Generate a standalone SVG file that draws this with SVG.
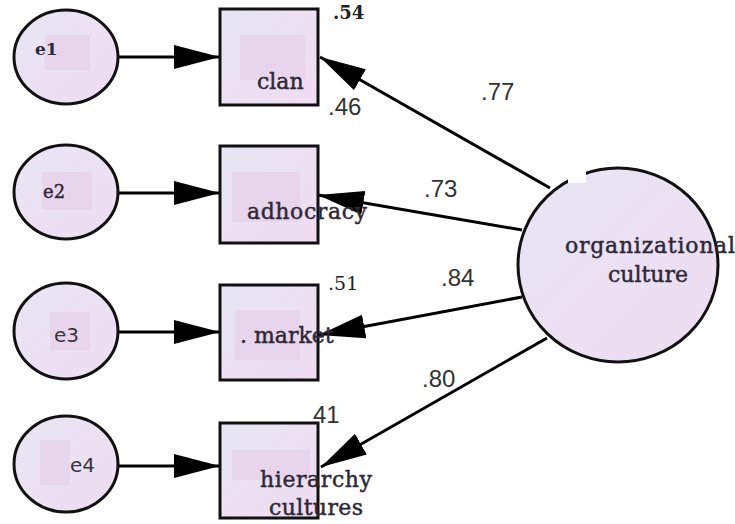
<svg xmlns="http://www.w3.org/2000/svg" width="735" height="524" viewBox="0 0 735 524">
  <defs>
    <linearGradient id="fillLav" x1="0" y1="0" x2="1" y2="1">
      <stop offset="0" stop-color="#e6e6f3"/>
      <stop offset="1" stop-color="#f0dcf2"/>
    </linearGradient>
    <marker id="ah" markerUnits="userSpaceOnUse" markerWidth="46" markerHeight="26" refX="46" refY="12" orient="auto">
      <path d="M0,0 L46,12 L0,24 z" fill="#000"/>
    </marker>
    <style>
      .node { fill: url(#fillLav); stroke: #111; stroke-width: 3; }
      .patch { fill: #e6d0e8; opacity: 0.7; }
      .lbl { font-family: "DejaVu Serif", "Liberation Serif", serif; fill: #2e2836; stroke: #2e2836; stroke-width: 0.45; font-size: 22px; }
      .elbl { font-family: "DejaVu Serif", "Liberation Serif", serif; fill: #2e2836; }
      .esans { font-family: "DejaVu Sans", "Liberation Sans", sans-serif; fill: #3a3440; font-size: 20px; }
      .num { font-family: "Liberation Sans", Arial, sans-serif; fill: #333; font-size: 24px; }
      .numS { font-family: "DejaVu Serif", "Liberation Serif", serif; fill: #222; }
      .conn { stroke: #000; stroke-width: 3; fill: none; marker-end: url(#ah); }
    </style>
  </defs>

  <rect width="735" height="524" fill="#fff"/>

  <!-- connectors -->
  <g id="connectors">
    <line class="conn" x1="118" y1="57" x2="220" y2="57"/>
    <line class="conn" x1="118" y1="193" x2="220" y2="193"/>
    <line class="conn" x1="118" y1="332" x2="220" y2="332"/>
    <line class="conn" x1="118" y1="466" x2="220" y2="466"/>
    <line class="conn" x1="550" y1="188" x2="320" y2="57"/>
    <line class="conn" x1="522" y1="230" x2="318" y2="195"/>
    <line class="conn" x1="522" y1="297" x2="319" y2="335"/>
    <line class="conn" x1="547" y1="338" x2="321" y2="467"/>
  </g>

  <!-- error terms -->
  <g id="e1">
    <ellipse class="node" cx="66" cy="57" rx="52" ry="47"/>
    <rect class="patch" x="45" y="35" width="45" height="35"/>
    <text class="elbl" x="35" y="55" font-size="17" font-weight="bold">e1</text>
  </g>
  <g id="e2">
    <ellipse class="node" cx="66" cy="192" rx="52" ry="47"/>
    <rect class="patch" x="42" y="172" width="50" height="38"/>
    <text class="elbl" x="43" y="198" font-size="18" stroke="#2e2836" stroke-width="0.4">e2</text>
  </g>
  <g id="e3">
    <ellipse class="node" cx="66" cy="331" rx="52" ry="48"/>
    <rect class="patch" x="50" y="312" width="40" height="38"/>
    <text class="esans" x="54" y="342">e3</text>
  </g>
  <g id="e4">
    <ellipse class="node" cx="66" cy="464" rx="52" ry="48"/>
    <rect class="patch" x="40" y="440" width="30" height="45"/>
    <text class="esans" x="70" y="472">e4</text>
  </g>

  <!-- observed indicators -->
  <g id="clan">
    <rect class="node" x="220" y="9" width="98" height="96"/>
    <rect class="patch" x="240" y="35" width="65" height="45"/>
    <text class="lbl" x="257" y="89">clan</text>
  </g>
  <g id="adhocracy">
    <rect class="node" x="220" y="146" width="98" height="97"/>
    <rect class="patch" x="232" y="172" width="68" height="50"/>
    <text class="lbl" x="247" y="219" textLength="120">adhocracy</text>
  </g>
  <g id="market">
    <rect class="node" x="220" y="285" width="98" height="95"/>
    <rect class="patch" x="235" y="310" width="65" height="50"/>
    <text class="lbl" x="240" y="343">. market</text>
  </g>
  <g id="hierarchy">
    <rect class="node" x="220" y="423" width="98" height="95"/>
    <rect class="patch" x="232" y="450" width="78" height="30"/>
    <text class="lbl" x="260" y="487" textLength="112">hierarchy</text>
    <text class="lbl" x="269" y="515" textLength="94">cultures</text>
  </g>

  <!-- latent factor -->
  <g id="organizational-culture">
    <ellipse class="node" cx="618" cy="265" rx="100" ry="97"/>
    <rect x="568" y="168" width="18" height="15" fill="#fff"/>
    <text class="lbl" x="565" y="253" textLength="170">organizational</text>
    <text class="lbl" x="608" y="282">culture</text>
  </g>

  <!-- estimates -->
  <g id="estimates">
    <text class="numS" x="333" y="19" font-size="18" font-weight="bold">.54</text>
    <text class="num" x="328" y="115">.46</text>
    <text class="num" x="481" y="100">.77</text>
    <text class="num" x="424" y="197">.73</text>
    <text class="numS" x="328" y="290" font-size="19">.51</text>
    <text class="num" x="441" y="286">.84</text>
    <text class="num" x="422" y="387">.80</text>
    <text class="num" x="313" y="423">41</text>
  </g>
</svg>
